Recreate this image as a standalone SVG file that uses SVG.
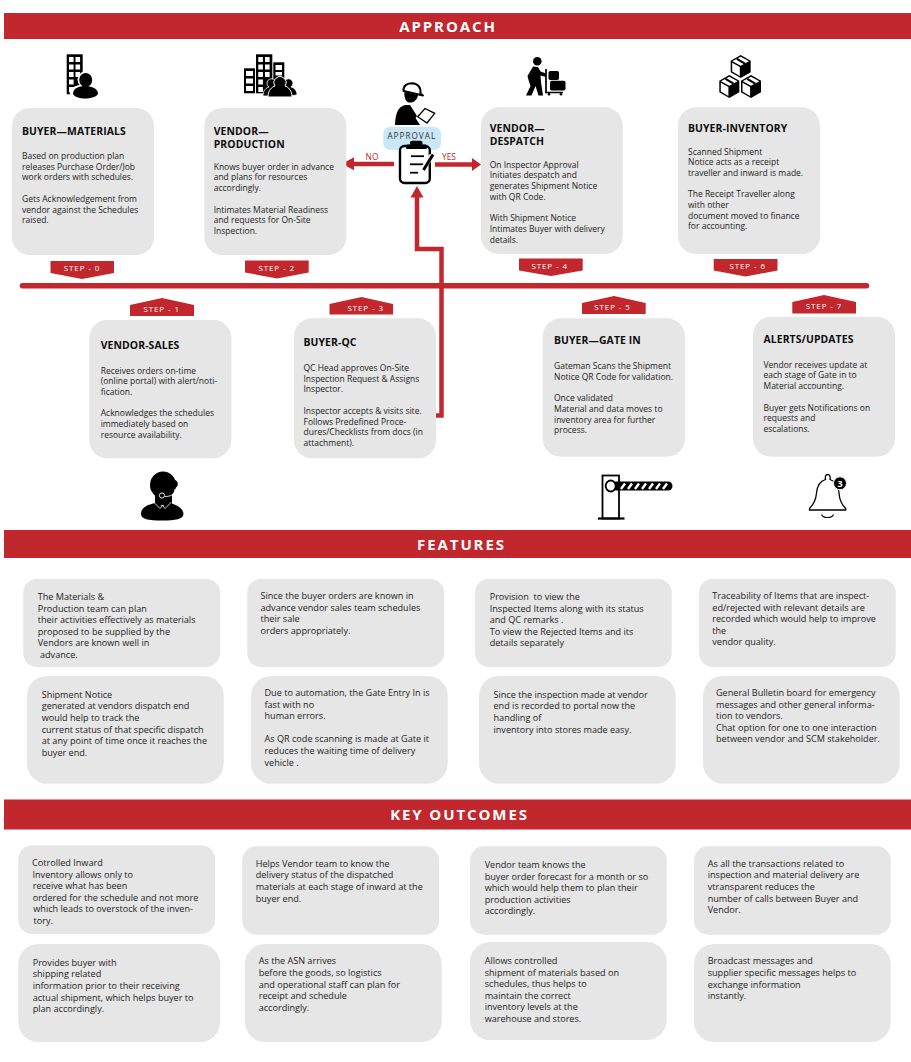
<svg xmlns="http://www.w3.org/2000/svg" xmlns:xlink="http://www.w3.org/1999/xlink" width="911" height="1062" viewBox="0 0 911 1062">
<style>
text{font-family:"Open Sans","Noto Sans","Liberation Sans",sans-serif}
.bar{fill:#c1272d}
.h{fill:#fff;font-weight:700;font-size:15px;letter-spacing:1.9px;text-anchor:middle}
.c{fill:#e6e6e6}
.t{fill:#0d0d0d;font-weight:700;font-size:10.4px;letter-spacing:.1px}
.b{fill:#222;font-size:8.5px}
.f{fill:#222;font-size:9.1px}
.s{fill:#fff;font-size:8px;letter-spacing:.9px;text-anchor:middle}
.red{fill:#c1272d}
.rl{fill:none;stroke:#c1272d;stroke-width:4.5}
.lab{fill:#c1272d;font-size:8.4px;text-anchor:middle}
.w{fill:#fff}
.k{fill:#000}
</style>
<defs>
<g id="cube">
<path d="M0 -11.500L10 -5.700V5.700L0 11.500L-10 5.700V-5.700Z" fill="#000"/>
<path d="M0 -9.700L8.300 -5.200L0 -.7L-8.300 -5.200Z" class="w"/>
<path d="M-8.500 -3.700L-.9 .5V9.500L-8.500 5Z" class="w"/>
<path d="M-3.800 -7.600L4.200 -2.900" stroke="#000" stroke-width="2.200" fill="none"/>
</g>
</defs>

<g id="band-approach"><rect class="bar" x="4" y="13" width="907" height="26"/><text class="h" x="448" y="31.500">APPROACH</text></g>
<g id="band-features"><rect class="bar" x="4" y="530" width="907" height="28"/><text class="h" x="461.500" y="549.500">FEATURES</text></g>
<g id="band-outcomes"><rect class="bar" x="4" y="799.500" width="907" height="30"/><text class="h" x="459.500" y="819.800">KEY OUTCOMES</text></g>

<g id="connectors">
<line x1="22.500" y1="285.800" x2="866.500" y2="285.800" stroke="#c1272d" stroke-width="5.500" stroke-linecap="round"/>
<path class="rl" d="M436 415.500H441.500V249H417V196"/>
<polygon class="red" points="417,186 423.500,197.500 410.500,197.500"/>
<line class="rl" x1="394" y1="164" x2="352" y2="164"/>
<polygon class="red" points="342,163.800 354,157.300 354,170.300"/>
<line class="rl" x1="435" y1="164.500" x2="473" y2="164.500"/>
<polygon class="red" points="481,164.500 472,158 472,171"/>
<text class="lab" x="372" y="160">NO</text>
<text class="lab" x="449" y="160">YES</text>
</g>

<g id="icon-buyer-materials">
<rect class="k" x="66.700" y="54.300" width="16" height="40"/>
<g class="w"><rect x="69" y="57" width="4.600" height="5"/><rect x="75.500" y="57" width="4.600" height="5"/><rect x="69" y="64.500" width="4.600" height="5"/><rect x="75.500" y="64.500" width="4.600" height="5"/><rect x="69" y="72" width="4.600" height="5"/><rect x="75.500" y="72" width="4.600" height="5"/><rect x="69" y="79.500" width="4.600" height="5"/><rect x="69" y="87" width="4.600" height="5"/></g>
<circle cx="85.700" cy="79.500" r="8.200" class="w"/><ellipse cx="84.500" cy="92" rx="15" ry="7.500" class="w"/>
<ellipse class="k" cx="85.700" cy="80" rx="6.500" ry="7"/><path class="k" d="M73 93C74 88 79 86 85 86S97 88 98 93C98 97 90 98.500 85 98.500S73 97 73 93Z"/>
</g>

<g id="icon-vendor-production">
<rect class="k" x="256" y="54.300" width="16.300" height="39"/><rect class="k" x="244" y="68.300" width="11" height="25"/><rect class="k" x="273.300" y="62.300" width="11" height="20"/>
<g class="w"><rect x="258.300" y="57" width="4.600" height="5"/><rect x="265" y="57" width="4.600" height="5"/><rect x="258.300" y="64.500" width="4.600" height="5"/><rect x="265" y="64.500" width="4.600" height="5"/><rect x="258.300" y="72" width="4.600" height="5"/><rect x="265" y="72" width="4.600" height="5"/><rect x="258.300" y="79.500" width="4.600" height="5"/><rect x="258.300" y="87" width="4.600" height="5"/><rect x="246" y="71" width="7" height="5"/><rect x="246" y="78.500" width="7" height="5"/><rect x="246" y="86" width="7" height="5"/><rect x="275.500" y="65" width="6.500" height="5"/><rect x="275.500" y="72" width="6.500" height="3.500"/></g>
<path class="k" stroke="#fff" stroke-width=".8" d="M263 96C263 90 266 88 269 87A4.500 4.500 0 1 1 274 87C278 88 280 90 280 96Z"/>
<path class="k" stroke="#fff" stroke-width=".8" d="M280 96C280 90 283 88 286 87A4.500 4.500 0 1 1 291 87C295 88 297 91 297 95L288 96Z"/>
<path class="k" stroke="#fff" stroke-width="1" d="M268 97C268 90 272 87 275 86A6 6 0 1 1 285 86C288 87 292 90 292 97Z"/>
</g>

<g id="icon-inspector-approval">
<path class="k" d="M395 125C395.500 113 398 107 405 105L410 105L417 116L415.500 118L420 125Z"/>
<path class="k" d="M404.500 92L418 95C417 101 412 104 407.500 102C405 100.500 404 96 404.500 92Z"/>
<path d="M403.500 91C403 85 408 83.200 412 83.200C418 83.500 421 87 420.500 93.500L423 95.500Z" fill="#fff" stroke="#000" stroke-width="2" stroke-linejoin="round"/>
<path d="M417.700 116.700L425 108.500L434.700 113.300L427 123Z" fill="#fff" stroke="#000" stroke-width="1.300"/>
<rect x="383.300" y="126.700" width="57.700" height="23.300" rx="7" fill="#c9e7f6"/>
<text x="411.800" y="138.700" fill="#333" font-size="8.200" letter-spacing="1" text-anchor="middle">APPROVAL</text>
<rect x="400" y="146" width="29.800" height="37" rx="4.500" fill="#fff" stroke="#000" stroke-width="2.400"/>
<rect class="k" x="406" y="144.500" width="21" height="4.500" rx="1.500"/><rect class="k" x="410" y="140.800" width="12.500" height="5" rx="2"/>
<g stroke="#000" stroke-width="1.800"><line x1="411" y1="156.200" x2="424" y2="156.200"/><line x1="410" y1="164.300" x2="423" y2="164.300"/><line x1="410" y1="172.700" x2="418" y2="172.700"/></g>
<path d="M432 155L423 169" stroke="#fff" stroke-width="5"/><path d="M433 154.500L423.500 170" stroke="#000" stroke-width="3"/>
</g>

<g id="icon-vendor-despatch">
<circle class="k" cx="537.300" cy="61.300" r="4.300"/>
<path class="k" d="M533 66.500L538 67L540.500 71.500L546 73.500V77L540.500 75.500L541 82L543 95.500H538.500L535.500 86L531.500 95.500H526L530.500 86L528.500 80L527.500 76Z"/>
<path d="M546 69V92.500H563" fill="none" stroke="#000" stroke-width="1.700"/>
<rect class="k" x="548.500" y="71" width="10.500" height="9" rx="1.800"/><rect class="k" x="550" y="80.800" width="15.500" height="9.700" rx="1.800"/>
<circle class="k" cx="549" cy="94.300" r="1.300"/><circle class="k" cx="561" cy="94.300" r="1.300"/>
</g>

<g id="icon-buyer-inventory">
<use xlink:href="#cube" href="#cube" x="740.700" y="66.500"/><use xlink:href="#cube" href="#cube" x="729.300" y="86.500"/><use xlink:href="#cube" href="#cube" x="751" y="86.500"/>
</g>

<g id="step0"><rect class="c" x="12" y="108" width="142" height="147" rx="18"/><text class="t" x="22" y="134.700">BUYER—MATERIALS</text>
<text class="b"><tspan x="22" y="159">Based on production plan</tspan><tspan x="22" dy="10.700">releases Purchase Order/Job</tspan><tspan x="22" dy="10.700">work orders with schedules.</tspan><tspan x="22" dy="21.400">Gets Acknowledgement from</tspan><tspan x="22" dy="10.700">vendor against the Schedules</tspan><tspan x="22" dy="10.700">raised.</tspan></text>
<polygon class="red" points="50.500,261 114,261 114,273 82,279 50.500,273"/><text class="s" x="82" y="271">STEP - 0</text></g>

<g id="step2"><rect class="c" x="204.300" y="108" width="142" height="147" rx="18"/><text class="t"><tspan x="213.700" y="134.700">VENDOR—</tspan><tspan x="213.700" dy="13.300">PRODUCTION</tspan></text>
<text class="b"><tspan x="213.700" y="169.700">Knows buyer order in advance</tspan><tspan x="213.700" dy="10.700">and plans for resources</tspan><tspan x="213.700" dy="10.700">accordingly.</tspan><tspan x="213.700" dy="21.400">Intimates Material Readiness</tspan><tspan x="213.700" dy="10.700">and requests for On-Site</tspan><tspan x="213.700" dy="10.700">Inspection.</tspan></text>
<polygon class="red" points="245,260.500 308.700,260.500 308.700,272.500 277,278.500 245,272.500"/><text class="s" x="276.700" y="271">STEP - 2</text></g>

<g id="step4"><rect class="c" x="481" y="107.300" width="141.700" height="146.700" rx="18"/><text class="t"><tspan x="489.700" y="132">VENDOR—</tspan><tspan x="489.700" dy="13.300">DESPATCH</tspan></text>
<text class="b"><tspan x="489.700" y="167.700">On Inspector Approval</tspan><tspan x="489.700" dy="10.700">Initiates despatch and</tspan><tspan x="489.700" dy="10.700">generates Shipment Notice</tspan><tspan x="489.700" dy="10.700">with QR Code.</tspan><tspan x="489.700" dy="21.400">With Shipment Notice</tspan><tspan x="489.700" dy="10.700">Intimates Buyer with delivery</tspan><tspan x="489.700" dy="10.700">details.</tspan></text>
<polygon class="red" points="519,258.500 582.700,258.500 582.700,270.500 551,276 519,270.500"/><text class="s" x="549.700" y="268.500">STEP - 4</text></g>

<g id="step6"><rect class="c" x="678" y="107.300" width="142" height="146.700" rx="18"/><text class="t" x="688" y="132">BUYER-INVENTORY</text>
<text class="b"><tspan x="688" y="154.500">Scanned Shipment</tspan><tspan x="688" dy="10.700">Notice acts as a receipt</tspan><tspan x="688" dy="10.700">traveller and inward is made.</tspan><tspan x="688" dy="21.400">The Receipt Traveller along</tspan><tspan x="688" dy="10.700">with other</tspan><tspan x="688" dy="10.700">document moved to finance</tspan><tspan x="688" dy="10.700">for accounting.</tspan></text>
<polygon class="red" points="713.700,259 777.500,259 777.500,270.500 745.500,276.500 713.700,270.500"/><text class="s" x="747.700" y="268.500">STEP - 6</text></g>

<g id="step1"><rect class="c" x="89.300" y="320" width="142" height="138.300" rx="18"/><text class="t" x="100.700" y="349">VENDOR-SALES</text>
<text class="b"><tspan x="100.700" y="373.500">Receives orders on-time</tspan><tspan x="100.700" dy="10.700">(online portal) with alert/noti-</tspan><tspan x="100.700" dy="10.700">fication.</tspan><tspan x="100.700" dy="21.400">Acknowledges the schedules</tspan><tspan x="100.700" dy="10.700">immediately based on</tspan><tspan x="100.700" dy="10.700">resource availability.</tspan></text>
<polygon class="red" points="130,316 130,305 162,298 194,305 194,316"/><text class="s" x="161.700" y="312">STEP - 1</text></g>

<g id="step3"><rect class="c" x="294" y="318.300" width="142" height="140" rx="18"/><text class="t" x="303.500" y="346.300">BUYER-QC</text>
<text class="b"><tspan x="303.500" y="371">QC Head approves On-Site</tspan><tspan x="303.500" dy="10.700">Inspection Request &amp; Assigns</tspan><tspan x="303.500" dy="10.700">Inspector.</tspan><tspan x="303.500" dy="21.400">Inspector accepts &amp; visits site.</tspan><tspan x="303.500" dy="10.700">Follows Predefined Proce-</tspan><tspan x="303.500" dy="10.700">dures/Checklists from docs (in</tspan><tspan x="303.500" dy="10.700">attachment).</tspan></text>
<polygon class="red" points="329.500,314.500 329.500,304 361.500,297 393,304 393,314.500"/><text class="s" x="365.700" y="310.500">STEP - 3</text></g>

<g id="step5"><rect class="c" x="542.700" y="318.300" width="142.300" height="138.400" rx="18"/><text class="t" x="554" y="344.300">BUYER—GATE IN</text>
<text class="b"><tspan x="554" y="369">Gateman Scans the Shipment</tspan><tspan x="554" dy="10.700">Notice QR Code for validation.</tspan><tspan x="554" dy="21.400">Once validated</tspan><tspan x="554" dy="10.700">Material and data moves to</tspan><tspan x="554" dy="10.700">inventory area for further</tspan><tspan x="554" dy="10.700">process.</tspan></text>
<polygon class="red" points="582,314 582,303 614,296 645.700,303 645.700,314"/><text class="s" x="612.500" y="309.500">STEP - 5</text></g>

<g id="step7"><rect class="c" x="753" y="316.700" width="142" height="140" rx="18"/><text class="t" x="763.500" y="343">ALERTS/UPDATES</text>
<text class="b"><tspan x="763.500" y="367.700">Vendor receives update at</tspan><tspan x="763.500" dy="10.700">each stage of Gate in to</tspan><tspan x="763.500" dy="10.700">Material accounting.</tspan><tspan x="763.500" dy="21.400">Buyer gets Notifications on</tspan><tspan x="763.500" dy="10.700">requests and</tspan><tspan x="763.500" dy="10.700">escalations.</tspan></text>
<polygon class="red" points="792.300,313.500 792.300,302 824,295 856,302 856,313.500"/><text class="s" x="824" y="308.500">STEP - 7</text></g>

<g id="icon-vendor-sales">
<ellipse class="k" cx="163" cy="485" rx="13" ry="13.500"/><circle class="k" cx="173.500" cy="484" r="4.300"/>
<path class="k" d="M155 493H172V505H155Z"/>
<path class="k" d="M141 514C141 507 148 505 155 503L162.500 506L170 503C177 505 183 508 183.500 514C183 519 176 520.500 162 520.500S141 519 141 514Z"/>
<path d="M153.500 502L160 508.500L162.500 505.500L165 508.500L171.500 502" fill="none" stroke="#fff" stroke-width=".8"/>
<path d="M175 489C175 495 170 496.500 165 496.500" fill="none" stroke="#fff" stroke-width=".9"/><circle cx="162" cy="495.500" r="2.600" fill="none" stroke="#fff" stroke-width=".9"/>
</g>

<g id="icon-gate">
<rect x="602.500" y="475.500" width="16.500" height="43" fill="#fff" stroke="#000" stroke-width="1.800"/>
<line x1="598" y1="518.500" x2="624.500" y2="518.500" stroke="#000" stroke-width="2.200"/>
<rect class="k" x="612" y="481.500" width="60.500" height="9" rx="4.500"/>
<g stroke="#fff" stroke-width="2.400"><line x1="621" y1="489" x2="625" y2="483.500"/><line x1="628" y1="489" x2="632" y2="483.500"/><line x1="635" y1="489" x2="639" y2="483.500"/><line x1="642" y1="489" x2="646" y2="483.500"/><line x1="649" y1="489" x2="653" y2="483.500"/><line x1="656" y1="489" x2="660" y2="483.500"/><line x1="663" y1="489" x2="667" y2="483.500"/></g>
<ellipse cx="610.700" cy="486" rx="5" ry="5.500" fill="#fff" stroke="#000" stroke-width="1.800"/>
</g>

<g id="icon-alerts">
<path d="M827.700 474.500C825.500 474.500 825 477 825.500 479.500C819 481.500 817 487 816.500 493C816 500 813 505 809.500 508.500V510H845.700V508.500C842 505 839.500 500 839 493C838.800 487 836 481.500 830 479.500C830.500 477 830 474.500 827.700 474.500Z" fill="#fff" stroke="#000" stroke-width="1.300"/>
<path d="M821.500 514.500C823 518.500 832 518.500 833.500 514.500" fill="none" stroke="#000" stroke-width="1.100"/>
<circle cx="840" cy="483.300" r="6.500" fill="#000" stroke="#fff"/>
<text x="840" y="486.500" fill="#fff" font-size="9" font-weight="700" text-anchor="middle">3</text>
</g>

<g id="feature-1"><rect class="c" x="23.300" y="578.700" width="196.700" height="88.300" rx="14"/><text class="f"><tspan x="37.700" y="600">The Materials &amp;</tspan><tspan x="37.700" dy="11.600">Production team can plan</tspan><tspan x="37.700" dy="11.600">their activities effectively as materials</tspan><tspan x="37.700" dy="11.600">proposed to be supplied by the</tspan><tspan x="37.700" dy="11.600">Vendors are known well in</tspan><tspan x="40" dy="11.600">advance.</tspan></text></g>
<g id="feature-2"><rect class="c" x="247.300" y="578.700" width="196.700" height="88.300" rx="14"/><text class="f"><tspan x="260.500" y="599">Since the buyer orders are known in</tspan><tspan x="260.500" dy="11.600">advance vendor sales team schedules</tspan><tspan x="260.500" dy="11.600">their sale</tspan><tspan x="260.500" dy="11.600">orders appropriately.</tspan></text></g>
<g id="feature-3"><rect class="c" x="475" y="578.700" width="196.700" height="88.300" rx="14"/><text class="f" xml:space="preserve"><tspan x="489.700" y="600">Provision  to view the</tspan><tspan x="489.700" dy="11.600">Inspected Items along with its status</tspan><tspan x="489.700" dy="11.600">and QC remarks .</tspan><tspan x="489.700" dy="11.600">To view the Rejected Items and its</tspan><tspan x="489.700" dy="11.600">details separately</tspan></text></g>
<g id="feature-4"><rect class="c" x="699" y="578.700" width="196.700" height="88.300" rx="14"/><text class="f"><tspan x="712.300" y="599">Traceability of Items that are inspect-</tspan><tspan x="712.300" dy="11.600">ed/rejected with relevant details are</tspan><tspan x="712.300" dy="11.600">recorded which would help to improve</tspan><tspan x="712.300" dy="11.600">the</tspan><tspan x="712.300" dy="11.600">vendor quality.</tspan></text></g>
<g id="feature-5"><rect class="c" x="27" y="676" width="196.700" height="107.700" rx="20"/><text class="f"><tspan x="41.700" y="697.700">Shipment Notice</tspan><tspan x="41.700" dy="11.600">generated at vendors dispatch end</tspan><tspan x="41.700" dy="11.600">would help to track the</tspan><tspan x="41.700" dy="11.600">current status of that specific dispatch</tspan><tspan x="41.700" dy="11.600">at any point of time once it reaches the</tspan><tspan x="41.700" dy="11.600">buyer end.</tspan></text></g>
<g id="feature-6"><rect class="c" x="251" y="676" width="196.700" height="107.700" rx="20"/><text class="f"><tspan x="264.500" y="696">Due to automation, the Gate Entry In is</tspan><tspan x="264.500" dy="11.600">fast with no</tspan><tspan x="264.500" dy="11.600">human errors.</tspan><tspan x="264.500" dy="23.200">As QR code scanning is made at Gate it</tspan><tspan x="264.500" dy="11.600">reduces the waiting time of delivery</tspan><tspan x="264.500" dy="11.600">vehicle .</tspan></text></g>
<g id="feature-7"><rect class="c" x="479" y="676" width="196.700" height="107.700" rx="20"/><text class="f"><tspan x="493.500" y="697.700">Since the inspection made at vendor</tspan><tspan x="493.500" dy="11.600">end is recorded to portal now the</tspan><tspan x="493.500" dy="11.600">handling of</tspan><tspan x="493.500" dy="11.600">inventory into stores made easy.</tspan></text></g>
<g id="feature-8"><rect class="c" x="703" y="676" width="196.700" height="107.700" rx="20"/><text class="f"><tspan x="716" y="696">General Bulletin board for emergency</tspan><tspan x="716" dy="11.600">messages and other general informa-</tspan><tspan x="716" dy="11.600">tion to vendors.</tspan><tspan x="716" dy="11.600">Chat option for one to one interaction</tspan><tspan x="716" dy="11.600">between vendor and SCM stakeholder.</tspan></text></g>

<g id="outcome-1"><rect class="c" x="18.300" y="845.300" width="196.700" height="88.700" rx="14"/><text class="f"><tspan x="32" y="866">Cotrolled Inward</tspan><tspan x="32.500" dy="11.600">Inventory allows only to</tspan><tspan x="32.700" dy="11.600">receive what has been</tspan><tspan x="32.700" dy="11.600">ordered for the schedule and not more</tspan><tspan x="33.300" dy="11.600">which leads to overstock of the inven-</tspan><tspan x="33.500" dy="11.600">tory.</tspan></text></g>
<g id="outcome-2"><rect class="c" x="242.300" y="846.300" width="196.700" height="88.400" rx="14"/><text class="f"><tspan x="255.700" y="866.700">Helps Vendor team to know the</tspan><tspan x="255.700" dy="11.600">delivery status of the dispatched</tspan><tspan x="255.700" dy="11.600">materials at each stage of inward at the</tspan><tspan x="255.700" dy="11.600">buyer end.</tspan></text></g>
<g id="outcome-3"><rect class="c" x="470" y="846.300" width="196.700" height="88.400" rx="14"/><text class="f"><tspan x="484.700" y="868">Vendor team knows the</tspan><tspan x="484.700" dy="11.600">buyer order forecast for a month or so</tspan><tspan x="484.700" dy="11.600">which would help them to plan their</tspan><tspan x="484.700" dy="11.600">production activities</tspan><tspan x="484.700" dy="11.600">accordingly.</tspan></text></g>
<g id="outcome-4"><rect class="c" x="694" y="846.300" width="196.700" height="88.400" rx="14"/><text class="f"><tspan x="707.700" y="866.700">As all the transactions related to</tspan><tspan x="707.700" dy="11.600">inspection and material delivery are</tspan><tspan x="707.700" dy="11.600">vtransparent reduces the</tspan><tspan x="707.700" dy="11.600">number of calls between Buyer and</tspan><tspan x="707.700" dy="11.600">Vendor.</tspan></text></g>
<g id="outcome-5"><rect class="c" x="18.300" y="944" width="201.700" height="98" rx="20"/><text class="f"><tspan x="32.700" y="965.700">Provides buyer with</tspan><tspan x="32.700" dy="11.600">shipping related</tspan><tspan x="32.700" dy="11.600">information prior to their receiving</tspan><tspan x="32.700" dy="11.600">actual shipment, which helps buyer to</tspan><tspan x="32.700" dy="11.600">plan accordingly.</tspan></text></g>
<g id="outcome-6"><rect class="c" x="245" y="944" width="196.700" height="98" rx="20"/><text class="f"><tspan x="258.700" y="964.300">As the ASN arrives</tspan><tspan x="258.700" dy="11.600">before the goods, so logistics</tspan><tspan x="258.700" dy="11.600">and operational staff can plan for</tspan><tspan x="258.700" dy="11.600">receipt and schedule</tspan><tspan x="258.700" dy="11.600">accordingly.</tspan></text></g>
<g id="outcome-7"><rect class="c" x="470" y="942" width="196.700" height="98" rx="20"/><text class="f"><tspan x="484.700" y="964">Allows controlled</tspan><tspan x="484.700" dy="11.600">shipment of materials based on</tspan><tspan x="484.700" dy="11.600">schedules, thus helps to</tspan><tspan x="484.700" dy="11.600">maintain the correct</tspan><tspan x="484.700" dy="11.600">inventory levels at the</tspan><tspan x="484.700" dy="11.600">warehouse and stores.</tspan></text></g>
<g id="outcome-8"><rect class="c" x="694" y="944" width="196.700" height="98" rx="20"/><text class="f"><tspan x="707.700" y="964.300">Broadcast messages and</tspan><tspan x="707.700" dy="11.600">supplier specific messages helps to</tspan><tspan x="707.700" dy="11.600">exchange information</tspan><tspan x="707.700" dy="11.600">instantly.</tspan></text></g>
</svg>
